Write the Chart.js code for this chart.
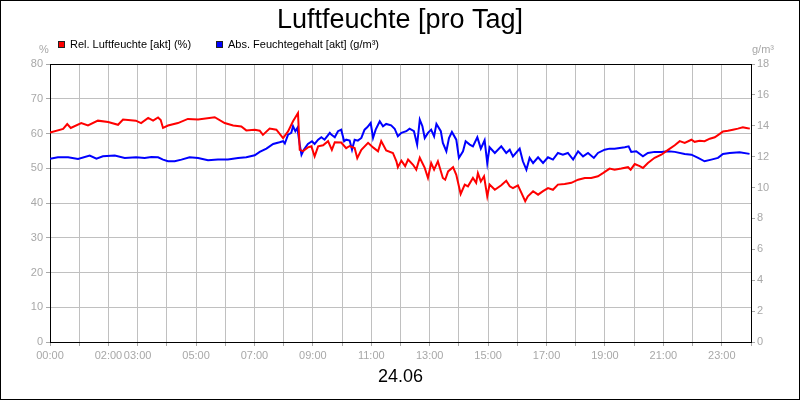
<!DOCTYPE html>
<html>
<head>
<meta charset="utf-8">
<script src="https://cdn.jsdelivr.net/npm/chart.js@4"></script>
<style>
  html, body { margin: 0; padding: 0; background: #fff; }
  #frame { position: absolute; left: 0; top: 0; width: 800px; height: 400px; border: 1px solid #000; box-sizing: border-box; }
  #c { position: absolute; left: 0; top: 0; }
  .lbl { position: absolute; font-family: 'Liberation Sans', Arial, sans-serif; font-size: 11px; line-height: 11px; white-space: nowrap; }
  .box { position: absolute; width: 7px; height: 7px; box-sizing: border-box; border: 1px solid #222; }
  .unit { color: #a8a8a8; }
</style>
</head>
<body>
<div id="frame">
  <canvas id="c" width="798" height="398"></canvas>
</div>
<div class="box" style="left:58px;top:41px;background:#ff0000"></div>
<div class="lbl" style="left:70px;top:39px;color:#000">Rel. Luftfeuchte [akt] (%)</div>
<div class="box" style="left:216px;top:41px;background:#0000ff"></div>
<div class="lbl" style="left:228px;top:39px;color:#000">Abs. Feuchtegehalt [akt] (g/m³)</div>
<div class="lbl unit" style="left:39px;top:44px">%</div>
<div class="lbl unit" style="left:752px;top:44px">g/m³</div>
<script>
const chartTitle = 'Luftfeuchte [pro Tag]';
const dateLabel = '24.06';
const seriesNames = ['Rel. Luftfeuchte [akt] (%)', 'Abs. Feuchtegehalt [akt] (g/m³)'];
const xTickLabels = ['00:00','02:00','03:00','05:00','07:00','09:00','11:00','13:00','15:00','17:00','19:00','21:00','23:00'];

// time in hours of day
const relTimes = [
  0.00,0.45,0.59,0.71,1.07,1.30,1.64,1.99,2.33,2.50,
  2.94,3.12,3.36,3.53,3.70,3.79,3.87,4.04,4.38,4.72,
  5.07,5.64,5.98,6.27,6.55,6.72,7.01,7.18,7.29,7.52,
  7.75,7.98,8.15,8.32,8.49,8.55,8.66,8.83,8.95,9.06,
  9.18,9.35,9.52,9.65,9.75,9.97,10.14,10.26,10.43,10.52,
  10.66,10.89,11.06,11.23,11.34,11.51,11.74,11.86,11.91,12.03,
  12.16,12.26,12.43,12.54,12.66,12.83,12.94,13.05,13.15,13.28,
  13.45,13.53,13.63,13.80,13.91,14.06,14.20,14.31,14.48,14.59,
  14.65,14.75,14.86,14.97,15.05,15.23,15.45,15.62,15.74,15.85,
  16.02,16.14,16.27,16.36,16.54,16.71,16.88,17.05,17.22,17.39,
  17.62,17.85,18.08,18.31,18.53,18.76,18.93,19.16,19.33,19.56,
  19.79,19.88,20.02,20.19,20.30,20.47,20.70,20.93,21.16,21.39,
  21.56,21.73,21.96,22.07,22.24,22.41,22.59,22.76,22.93,23.04,
  23.21,23.38,23.55,23.72,23.84,23.96
];
// relative humidity, %
const relValues = [
  60.3,61.3,62.7,61.6,63.0,62.3,63.7,63.3,62.5,64.0,
  63.7,63.0,64.5,63.7,64.6,63.9,61.6,62.3,63.0,64.2,
  64.0,64.7,63.0,62.3,62.0,60.9,61.1,60.8,59.6,61.4,
  61.1,58.7,60.6,63.5,65.9,55.3,54.9,56.0,56.3,53.4,
  56.3,56.6,57.8,55.3,57.5,57.4,55.8,56.4,55.8,52.9,
  55.3,57.3,56.0,54.9,57.8,55.1,54.4,52.0,50.3,52.2,
  50.6,52.5,51.0,49.6,53.0,50.1,47.2,51.5,49.6,52.0,
  47.2,46.7,49.1,50.3,48.1,42.6,45.3,44.8,47.2,45.8,
  48.6,46.2,47.7,41.9,45.3,43.8,45.1,46.4,44.8,44.3,
  45.1,42.9,40.5,41.9,43.4,42.4,43.4,44.3,43.8,45.3,
  45.5,45.8,46.7,47.2,47.2,47.7,48.6,49.9,49.6,49.9,
  50.3,49.6,51.2,50.6,50.1,51.5,53.0,53.9,55.3,56.6,
  57.8,57.3,58.2,57.6,57.9,57.8,58.5,58.9,59.9,60.6,
  60.8,61.1,61.4,61.8,61.6,61.4
];

const absTimes = [
  0.00,0.27,0.62,0.96,1.36,1.59,1.81,2.22,2.56,2.95,
  3.24,3.47,3.70,3.87,4.04,4.27,4.50,4.78,5.07,5.41,
  5.75,6.09,6.44,6.72,7.01,7.18,7.41,7.64,7.86,7.98,
  8.04,8.15,8.26,8.32,8.40,8.47,8.55,8.61,8.69,8.83,
  8.97,9.06,9.18,9.29,9.40,9.58,9.63,9.75,9.86,9.97,
  10.07,10.14,10.26,10.34,10.43,10.54,10.66,10.77,10.86,10.98,
  11.06,11.15,11.29,11.40,11.51,11.68,11.80,11.91,12.03,12.20,
  12.31,12.46,12.57,12.66,12.75,12.83,12.94,13.05,13.15,13.23,
  13.38,13.45,13.57,13.66,13.76,13.91,14.00,14.14,14.23,14.37,
  14.48,14.63,14.75,14.88,14.97,15.05,15.23,15.45,15.62,15.74,
  15.85,16.08,16.19,16.31,16.42,16.54,16.71,16.88,17.05,17.22,
  17.39,17.56,17.73,17.91,18.08,18.25,18.42,18.62,18.76,18.99,
  19.16,19.33,19.68,19.81,19.90,20.07,20.30,20.47,20.70,20.93,
  21.16,21.39,21.73,21.96,22.19,22.41,22.64,22.87,23.04,23.27,
  23.61,23.95
];
// absolute humidity, g/m³
const absValues = [
  11.87,11.96,11.96,11.85,12.07,11.87,12.02,12.07,11.92,11.96,
  11.92,11.98,11.96,11.81,11.70,11.70,11.81,11.96,11.92,11.77,
  11.81,11.81,11.92,11.96,12.09,12.31,12.52,12.82,12.93,13.00,
  12.85,13.43,13.54,13.97,13.65,13.86,12.78,12.13,12.45,12.82,
  13.00,12.82,13.10,13.26,13.10,13.54,13.43,13.26,13.65,13.75,
  13.00,13.10,13.04,12.45,13.10,13.04,13.21,13.75,13.90,14.18,
  13.21,13.75,14.29,13.97,14.12,14.03,13.81,13.32,13.54,13.65,
  13.81,13.65,12.78,14.40,13.97,13.21,13.54,13.75,13.32,14.12,
  13.65,12.89,12.35,13.21,13.60,13.10,11.92,12.35,13.00,12.78,
  12.67,13.26,12.52,13.06,11.59,12.61,12.24,12.67,12.24,12.45,
  12.02,12.52,11.70,11.16,11.92,11.59,11.96,11.59,11.96,11.81,
  12.24,12.13,12.24,11.81,12.35,12.02,12.24,11.92,12.24,12.45,
  12.52,12.52,12.61,12.67,12.31,12.35,12.02,12.24,12.31,12.31,
  12.35,12.31,12.18,12.13,11.92,11.70,11.81,11.92,12.18,12.24,
  12.29,12.18
];

const FONT = "'Liberation Sans', Arial, sans-serif";
const GRID = '#c0c0c0';
const TICKTXT = '#a8a8a8';

const toPoints = (ts, vs) => ts.map((t, i) => ({ x: t, y: vs[i] }));

const topBorder = {
  id: 'topBorder',
  afterDraw(chart) {
    const { ctx, chartArea: a } = chart;
    ctx.save();
    ctx.strokeStyle = '#000';
    ctx.lineWidth = 1;
    ctx.beginPath();
    ctx.moveTo(a.left, Math.round(a.top) + 0.5);
    ctx.lineTo(a.right, Math.round(a.top) + 0.5);
    ctx.stroke();
    ctx.restore();
  }
};

new Chart(document.getElementById('c'), {
  type: 'line',
  data: {
    datasets: [
      { label: seriesNames[0], data: toPoints(relTimes, relValues), yAxisID: 'y',
        borderColor: '#ff0000', backgroundColor: '#ff0000', borderWidth: 2, pointRadius: 0, tension: 0 },
      { label: seriesNames[1], data: toPoints(absTimes, absValues), yAxisID: 'y1',
        borderColor: '#0000ff', backgroundColor: '#0000ff', borderWidth: 2, pointRadius: 0, tension: 0 }
    ]
  },
  options: {
    responsive: false,
    animation: false,
    devicePixelRatio: 1,
    layout: { padding: 0 },
    plugins: {
      legend: { display: false },
      tooltip: { enabled: false },
      title: { display: true, text: chartTitle, color: '#000',
               font: { family: FONT, size: 27, weight: 'normal', lineHeight: '30px' },
               padding: { top: 5, bottom: 28 } }
    },
    scales: {
      x: {
        type: 'linear', min: 0, max: 24, position: 'bottom',
        afterFit(s) { s.height = 57; },
        border: { display: true, color: '#000', width: 1 },
        grid: { color: GRID, tickLength: 4, tickColor: TICKTXT },
        ticks: {
          stepSize: 1, autoSkip: false, maxRotation: 0, padding: 3, color: TICKTXT,
          font: { family: FONT, size: 11 },
          callback(v) {
            const s = String(v).padStart(2, '0') + ':00';
            return xTickLabels.includes(s) ? s : '';
          }
        },
        title: { display: true, text: dateLabel, color: '#000',
                 font: { family: FONT, size: 18 }, padding: { top: 0, bottom: 11 } }
      },
      y: {
        position: 'left', min: 0, max: 80,
        afterFit(s) { s.width = 49; },
        border: { display: true, color: '#000', width: 1 },
        grid: { color: GRID, tickLength: 4, tickColor: TICKTXT },
        ticks: { stepSize: 10, padding: 3, color: TICKTXT, font: { family: FONT, size: 11 } }
      },
      y1: {
        position: 'right', min: 0, max: 18,
        afterFit(s) { s.width = 48; },
        border: { display: true, color: '#000', width: 1 },
        grid: { drawOnChartArea: false, tickLength: 4, color: TICKTXT },
        ticks: { stepSize: 2, padding: 2, color: TICKTXT, font: { family: FONT, size: 11 } }
      }
    }
  },
  plugins: [topBorder]
});
</script>
</body>
</html>
